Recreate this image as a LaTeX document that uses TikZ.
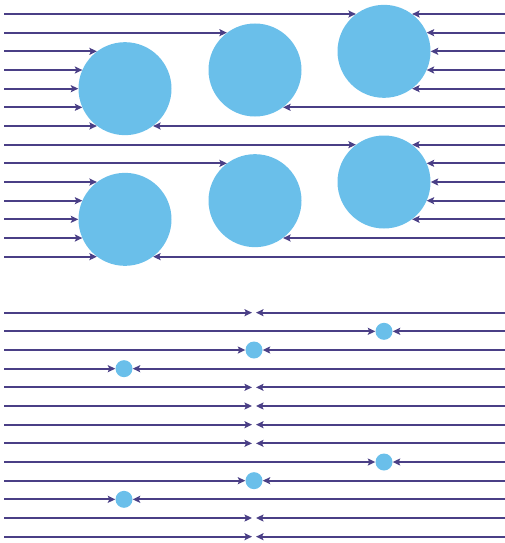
\documentclass[tikz,border=0pt]{standalone}
\usepackage{tikz}
\usetikzlibrary{arrows.meta, positioning, calc}
\definecolor{cWIRE}{HTML}{4A3F86}
\definecolor{cDROP}{HTML}{6ABFEA}

\tikzset{
  wire/.style={draw=cWIRE, line width=2pt, -{Stealth[length=7.5pt, width=7pt, inset=1.5pt]}},
  bigdrop/.style={circle, fill=cDROP, minimum size=93pt, inner sep=0pt},
  smalldrop/.style={circle, fill=cDROP, minimum size=17pt, inner sep=0pt}
}

\begin{document}
\begin{tikzpicture}[x=1pt, y=-1pt]
  \useasboundingbox (0,0) rectangle (505,543);

  % Top panel: two bands of seven wires, three big drops in each
  \foreach \g/\off in {a/0, b/130.67} {
    \node[bigdrop] (\g1) at (125, 88.67+\off) {};
    \node[bigdrop] (\g2) at (255, 70+\off) {};
    \node[bigdrop] (\g3) at (384, 51.33+\off) {};
    \foreach \k/\lt/\rt in {0/3.127/3.53, 1/2.127/3.24, 2/1.127/3.0,
                            3/1.156/3.336, 4/1.180/3.307, 5/1.204/2.307,
                            6/1.233/1.307} {
      \coordinate (\g l\k) at (4, 14+18.667*\k+\off);
      \coordinate (\g r\k) at (505, 14+18.667*\k+\off);
      \draw[wire] (\g l\k) -- (\g l\k -| \g\lt);
      \draw[wire] (\g r\k) -- (\g r\k -| \g\rt);
    }
  }

  % Bottom panel: wires that meet with no drop
  \foreach \k in {0,4,5,6,7,11,12} {
    \coordinate (hm\k) at (254, 312.67+18.667*\k);
    \coordinate (hl\k) at (4, 312.67+18.667*\k);
    \coordinate (hr\k) at (505, 312.67+18.667*\k);
    \draw[wire, shorten >=2pt] (hl\k) -- (hm\k);
    \draw[wire, shorten >=2pt] (hr\k) -- (hm\k);
  }

  % Bottom panel: wires that meet at a small drop
  \foreach \k/\cx in {1/384, 2/254, 3/124, 8/384, 9/254, 10/124} {
    \node[smalldrop] (hd\k) at (\cx, 312.67+18.667*\k) {};
    \coordinate (hl\k) at (4, 312.67+18.667*\k);
    \coordinate (hr\k) at (505, 312.67+18.667*\k);
    \draw[wire] (hl\k) -- (hd\k);
    \draw[wire] (hr\k) -- (hd\k);
  }
\end{tikzpicture}
\end{document}
